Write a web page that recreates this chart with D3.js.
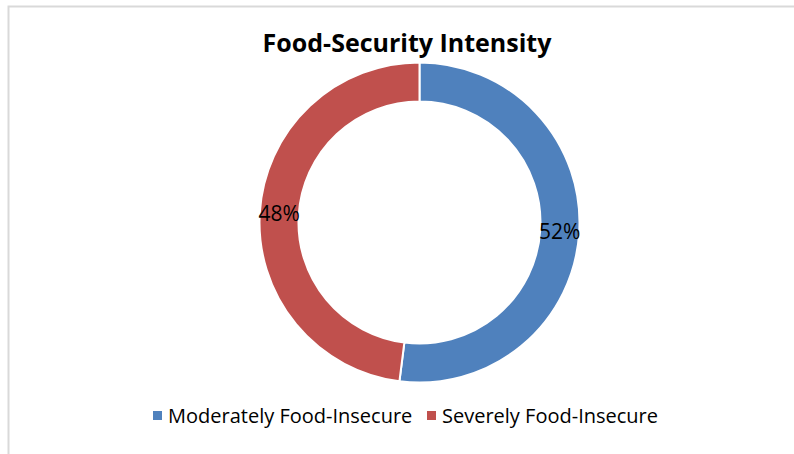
<!DOCTYPE html>
<html>
<head>
<meta charset="utf-8">
<script src="https://cdn.jsdelivr.net/npm/d3@7"></script>
<style>
  html, body { margin: 0; padding: 0; background: #fff; }
  svg { display: block; font-family: "Open Sans", Lato, sans-serif; }
</style>
</head>
<body>
<svg id="chart" width="794" height="454"></svg>
<script>
// Share of food-insecure households by severity
const categories = ["Moderately Food-Insecure", "Severely Food-Insecure"];
const values = [52, 48];
const colors = ["#4f81bd", "#c0504d"];
const chartTitle = "Food-Security Intensity";

const svg = d3.select("#chart");
const W = 794, H = 454;

// outer chart frame
svg.append("rect")
  .attr("x", 8.5).attr("y", 6.5)
  .attr("width", W + 20).attr("height", H + 20)
  .attr("fill", "#fff")
  .attr("stroke", "#d9d9d9").attr("stroke-width", 2);

svg.append("text")
  .attr("x", 407).attr("y", 52)
  .attr("text-anchor", "middle")
  .attr("font-size", 25).attr("font-weight", "bold")
  .attr("fill", "#000")
  .text(chartTitle);

const cx = 419.5, cy = 222.5;
const outerR = 160, innerR = 121;

const data = categories.map((c, i) => ({ name: c, value: values[i], color: colors[i] }));
const pie = d3.pie().value(d => d.value).sort(null);
const arc = d3.arc().innerRadius(innerR).outerRadius(outerR);

const g = svg.append("g").attr("transform", `translate(${cx},${cy})`);
const arcs = pie(data);

g.selectAll("path.slice")
  .data(arcs)
  .join("path")
  .attr("class", "slice")
  .attr("d", arc)
  .attr("fill", d => d.data.color)
  .attr("stroke", "#fff").attr("stroke-width", 2);

const total = d3.sum(values);
g.selectAll("text.pct")
  .data(arcs)
  .join("text")
  .attr("class", "pct")
  .attr("transform", d => `translate(${arc.centroid(d)})`)
  .attr("text-anchor", "middle")
  .attr("dy", "0.35em")
  .attr("font-size", 21)
  .attr("fill", "#000")
  .text(d => Math.round(d.data.value / total * 100) + "%");

// legend
const legend = svg.append("g").attr("transform", "translate(0,416)");
const legendX = [153, 427];
const items = legend.selectAll("g.item")
  .data(data)
  .join("g")
  .attr("class", "item")
  .attr("transform", (d, i) => `translate(${legendX[i]},0)`);
items.append("rect")
  .attr("x", 0).attr("y", -5)
  .attr("width", 9).attr("height", 9)
  .attr("fill", d => d.color);
items.append("text")
  .attr("x", 15).attr("y", 0)
  .attr("dy", "0.35em")
  .attr("font-size", 20)
  .attr("fill", "#000")
  .text(d => d.name);
</script>
</body>
</html>
